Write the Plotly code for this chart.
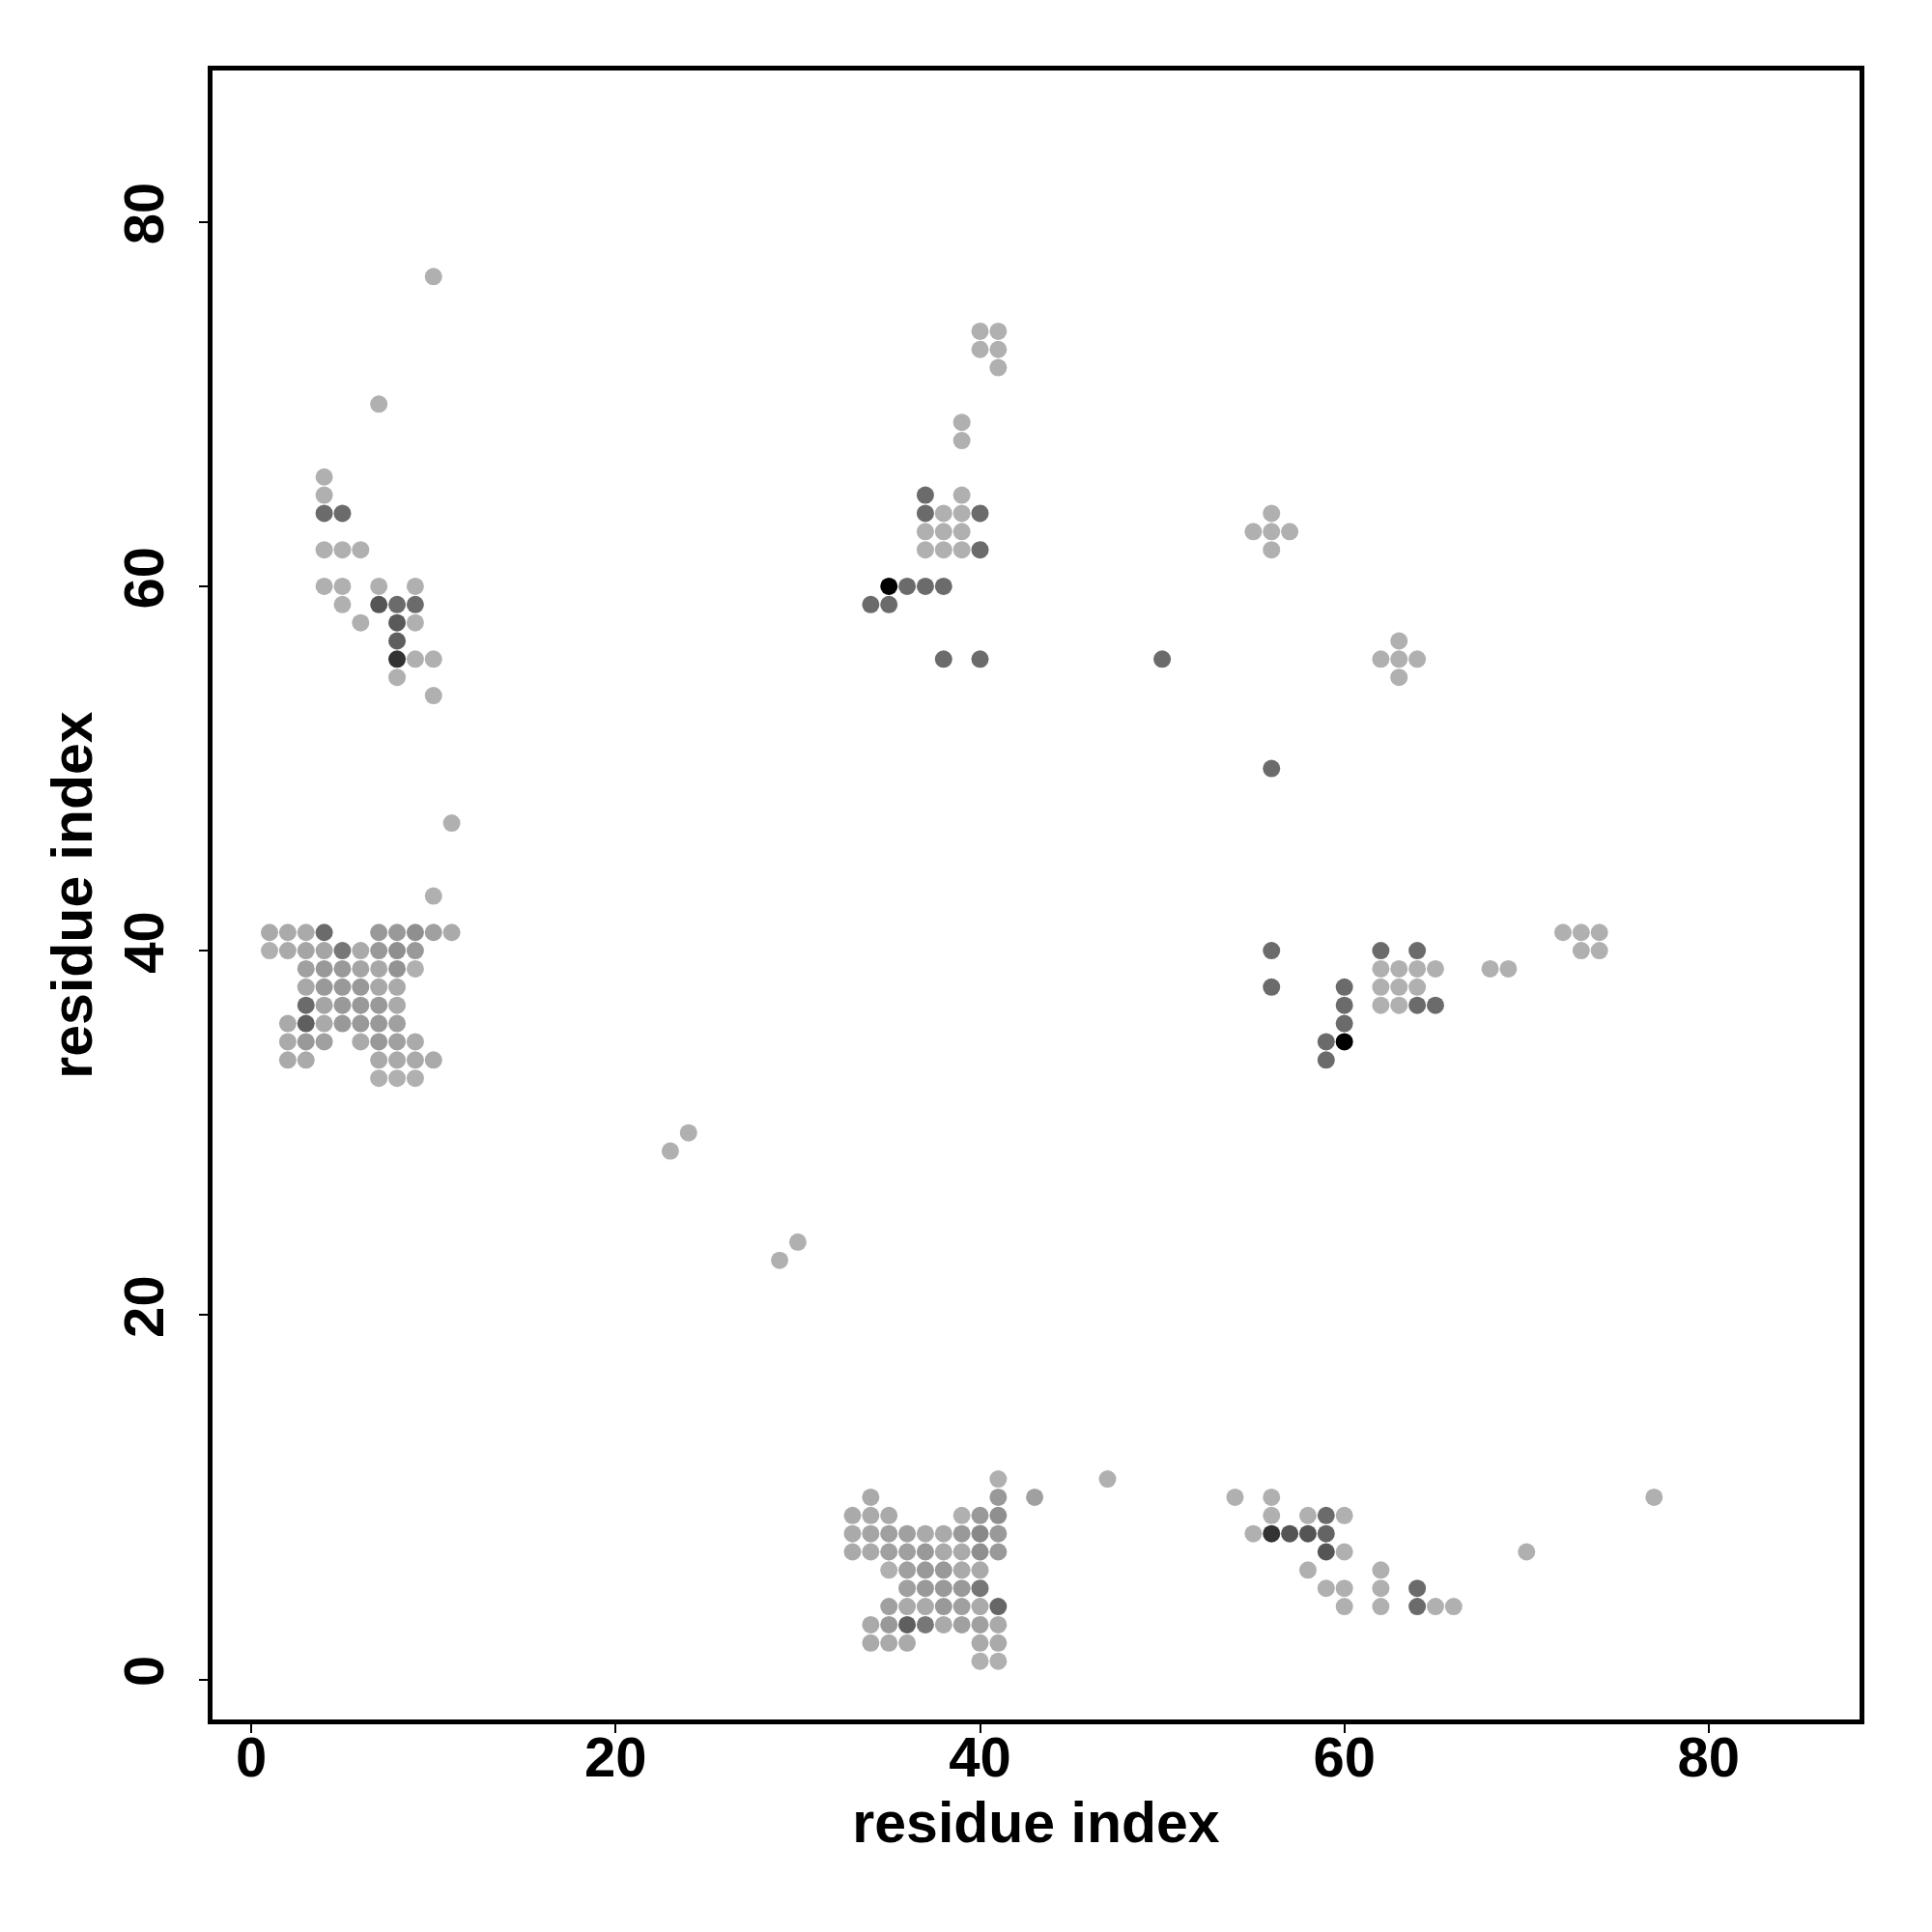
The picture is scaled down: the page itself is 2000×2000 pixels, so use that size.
import plotly.graph_objects as go

# residue pairs (i, j) and gray level (0 = black, 255 = white) of each contact dot
L = 176  # light gray
D = 107  # dark gray

contacts = [
    # upper-left block
    (10, 77, L), (7, 70, L), (4, 66, L), (4, 65, L), (4, 64, D), (5, 64, D),
    (4, 62, L), (5, 62, L), (6, 62, L), (4, 60, L), (5, 60, L), (7, 60, L), (9, 60, L),
    (5, 59, L), (7, 59, 85), (8, 59, D), (9, 59, D), (6, 58, L), (8, 58, 90), (9, 58, L),
    (8, 57, 95), (8, 56, 51), (9, 56, L), (10, 56, L), (8, 55, L), (10, 54, L),
    # left block
    (11, 47, L), (10, 43, L),
    (1, 41, 170), (2, 41, 170), (3, 41, 170), (4, 41, D), (7, 41, 153), (8, 41, 153),
    (9, 41, 143), (10, 41, 160), (11, 41, 170),
    (1, 40, 176), (2, 40, 170), (3, 40, 165), (4, 40, 165), (5, 40, 119), (6, 40, 170),
    (7, 40, 153), (8, 40, 143), (9, 40, 153),
    (3, 39, 160), (4, 39, 153), (5, 39, 153), (6, 39, 165), (7, 39, 168), (8, 39, 147), (9, 39, 176),
    (3, 38, 168), (4, 38, 153), (5, 38, 153), (6, 38, 153), (7, 38, 168), (8, 38, 170),
    (3, 37, D), (4, 37, 165), (5, 37, 153), (6, 37, 153), (7, 37, 153), (8, 37, 170),
    (2, 36, 170), (3, 36, 95), (4, 36, 170), (5, 36, 153), (6, 36, 153), (7, 36, 153), (8, 36, 160),
    (2, 35, 170), (3, 35, 153), (4, 35, 160), (6, 35, 170), (7, 35, 153), (8, 35, 160), (9, 35, 170),
    (2, 34, 170), (3, 34, 170), (7, 34, 170), (8, 34, 170), (9, 34, 170), (10, 34, 170),
    (7, 33, 176), (8, 33, 176), (9, 33, 176),
    # near-diagonal
    (23, 29, L), (24, 30, L), (29, 23, L), (30, 24, L),
    # middle-top block
    (40, 74, L), (41, 74, L), (40, 73, L), (41, 73, L), (41, 72, L), (39, 69, L), (39, 68, L),
    (37, 65, D), (39, 65, L), (37, 64, D), (38, 64, L), (39, 64, L), (40, 64, D),
    (37, 63, L), (38, 63, L), (39, 63, L), (37, 62, L), (38, 62, L), (39, 62, L), (40, 62, D),
    (35, 60, 0), (36, 60, D), (37, 60, D), (38, 60, D), (34, 59, D), (35, 59, D),
    (38, 56, D), (40, 56, D),
    # upper-right
    (56, 64, L), (55, 63, L), (56, 63, L), (57, 63, L), (56, 62, L),
    (63, 57, L), (62, 56, L), (63, 56, L), (64, 56, L), (63, 55, L),
    (50, 56, D), (56, 50, D),
    # right-middle
    (72, 41, L), (73, 41, L), (74, 41, L),
    (56, 40, D), (62, 40, D), (64, 40, D), (73, 40, L), (74, 40, L),
    (62, 39, L), (63, 39, L), (64, 39, L), (65, 39, L), (68, 39, L), (69, 39, L),
    (56, 38, D), (60, 38, D), (62, 38, L), (63, 38, L), (64, 38, L),
    (60, 37, D), (62, 37, L), (63, 37, L), (64, 37, D), (65, 37, D),
    (60, 36, D), (59, 35, D), (60, 35, 0), (59, 34, D),
    # bottom-middle block
    (41, 11, L), (47, 11, L),
    (34, 10, 170), (41, 10, 153), (43, 10, 160),
    (33, 9, 170), (34, 9, 170), (35, 9, 170), (39, 9, 176), (40, 9, 153), (41, 9, 143),
    (33, 8, 170), (34, 8, 165), (35, 8, 160), (36, 8, 160), (37, 8, 170), (38, 8, 170),
    (39, 8, 153), (40, 8, 136), (41, 8, 153),
    (33, 7, 170), (34, 7, 170), (35, 7, 160), (36, 7, 160), (37, 7, 153), (38, 7, 170),
    (39, 7, 170), (40, 7, 143), (41, 7, 153),
    (35, 6, 176), (36, 6, 160), (37, 6, 153), (38, 6, 153), (39, 6, 170), (40, 6, 170),
    (36, 5, 160), (37, 5, 153), (38, 5, 153), (39, 5, 153), (40, 5, 119),
    (35, 4, 160), (36, 4, 170), (37, 4, 170), (38, 4, 153), (39, 4, 160), (40, 4, 170), (41, 4, 102),
    (34, 3, 170), (35, 3, 153), (36, 3, 95), (37, 3, 119), (38, 3, 170), (39, 3, 160),
    (40, 3, 160), (41, 3, 170),
    (34, 2, 170), (35, 2, 170), (36, 2, 170), (40, 2, 170), (41, 2, 170),
    (40, 1, 176), (41, 1, 176),
    # bottom-right
    (54, 10, L), (56, 10, L), (77, 10, L),
    (56, 9, L), (58, 9, L), (59, 9, D), (60, 9, L),
    (55, 8, L), (56, 8, 51), (57, 8, 85), (58, 8, 85), (59, 8, 100),
    (59, 7, 85), (60, 7, L), (70, 7, L),
    (58, 6, L), (62, 6, L),
    (59, 5, L), (60, 5, L), (62, 5, L), (64, 5, D),
    (60, 4, L), (62, 4, L), (64, 4, D), (65, 4, L), (66, 4, L),
]

res_i = [c[0] for c in contacts]
res_j = [c[1] for c in contacts]
gray = [c[2] for c in contacts]

tick_vals = [0, 20, 40, 60, 80]
axis_title = "residue index"

colors = [f"rgb({g},{g},{g})" for g in gray]

FONT = "Liberation Sans, Arial, Helvetica, sans-serif"

fig = go.Figure(
    go.Scatter(
        x=res_i, y=res_j, mode="markers",
        marker=dict(size=18, color=colors, line=dict(width=0)),
        showlegend=False,
    )
)

axis_common = dict(
    tickvals=tick_vals,
    ticks="outside", ticklen=9, tickwidth=2, tickcolor="black",
    showline=True, mirror=True, linewidth=5, linecolor="black",
    showgrid=False, zeroline=False,
    tickfont=dict(family=FONT, size=58, color="black", weight="bold"),
)
title_font = dict(family=FONT, size=59, color="black", weight="bold")

fig.update_xaxes(
    **axis_common,
    range=[-2.13, 88.28],
    ticklabelstandoff=-25,
    title=dict(text=axis_title, font=title_font, standoff=18),
)
fig.update_yaxes(
    **axis_common,
    range=[-2.2, 88.31],
    tickangle=-90,
    ticklabelstandoff=14,
    title=dict(text=axis_title, font=title_font, standoff=3),
)

fig.update_layout(
    width=2000, height=2000,
    margin=dict(l=212, r=83, t=65, b=228, autoexpand=False),
    plot_bgcolor="white", paper_bgcolor="white",
)

fig.write_html("out.html")
